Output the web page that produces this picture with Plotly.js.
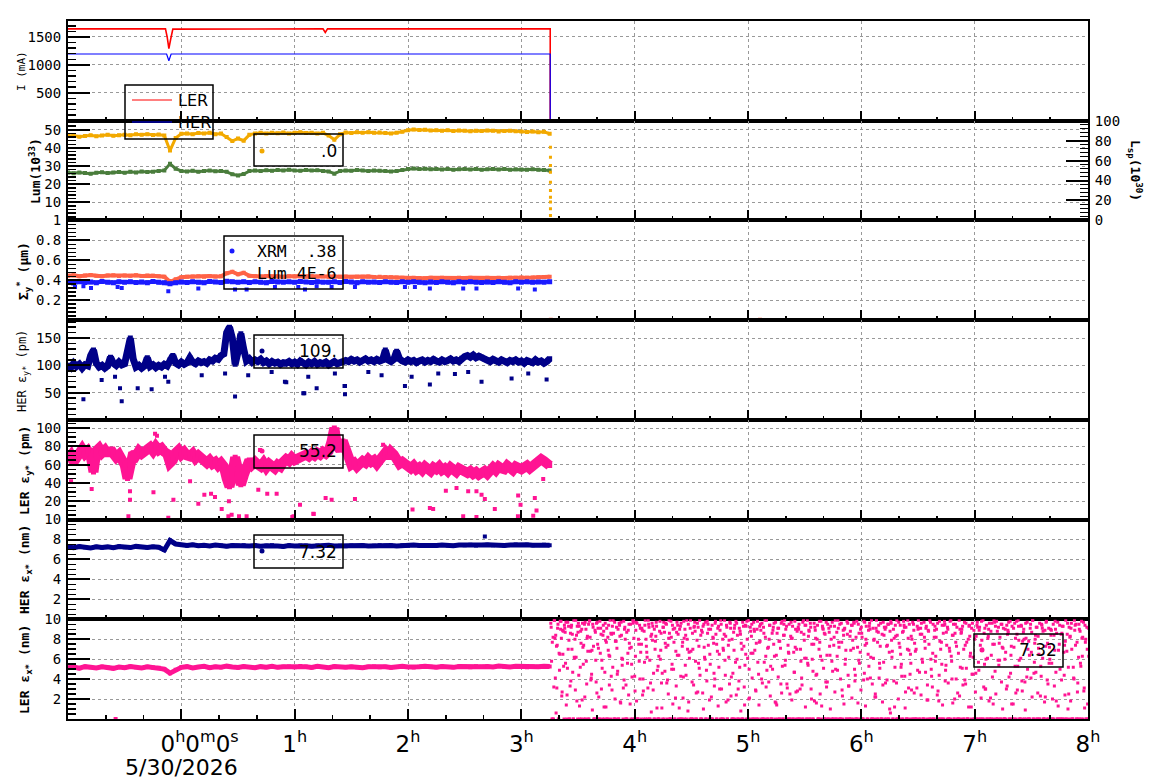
<!DOCTYPE html>
<html><head><meta charset="utf-8">
<script src="https://cdn.plot.ly/plotly-3.0.1.min.js"></script>
<style>html,body{margin:0;padding:0;background:#fff}#chart{width:1160px;height:782px}</style>
</head><body><div id="chart"></div>
<script>
// ================= DATA =================
const hourTicks = [0, 1, 2, 3, 4, 5, 6, 7, 8];
const hourLabels = ['\u00A0\u00A0\u00A0\u00A0\u00A00<sup>h</sup>0<sup>m</sup>0<sup>s</sup>', '1<sup>h</sup>', '2<sup>h</sup>', '3<sup>h</sup>', '4<sup>h</sup>', '5<sup>h</sup>', '6<sup>h</sup>', '7<sup>h</sup>', '8<sup>h</sup>'];
const dateLabel = '5/30/2026';

const yTitles = ['I (mA)', '<b>Lum(10<sup>33</sup>)</b>', '<b>\u03A3<sub>y</sub><sup>*</sup> (\u03BCm)</b>', 'HER \u03B5<sub>y*</sub> (pm)', '<b>LER \u03B5<sub>y*</sub> (pm)</b>', '<b>HER \u03B5<sub>x*</sub> (nm)</b>', '<b>LER \u03B5<sub>x*</sub> (nm)</b>'];
const rightTitle = '<b>L<sub>sp</sub>(10<sup>30</sup>)</b>';

// beam currents (mA)
const tLER   = [-1, -0.14, -0.125, -0.11, -0.095, -0.075, 1.25, 1.27, 1.29, 3.255, 3.255, 8];
const curLER = [1645, 1645, 1500, 1290, 1450, 1640, 1645, 1580, 1645, 1645, 0, 0];
const tHER   = [-1, -0.13, -0.11, -0.09, 3.255, 3.255, 8];
const curHER = [1195, 1195, 1075, 1195, 1195, 0, 0];

// regular sampling grids (hours)
const gridA = {start: -1, step: 0.05};   // 86 samples up to 3.25 h
const gridB = {start: -1, step: 0.025};  // 171 samples up to 3.25 h
const gridN1 = {start: 3.26, step: 0.01};   // samples after beam abort
const gridN2 = {start: 3.2633, step: 0.01};
const gridN3 = {start: 3.2667, step: 0.01};

// luminosity (10^33)
const lumOrange = [46.5, 46.8, 46.2, 46.6, 47.0, 46.4, 46.9, 47.2, 46.7, 47.0,
  47.3, 47.0, 47.5, 47.2, 47.6, 47.1, 47.4, 46.8, 38.5, 45.5,
  47.8, 48.0, 47.5, 48.2, 47.9, 48.3, 47.6, 47.9, 46.0, 43.8, 45.2, 44.0, 47.2,
  48.0, 48.3, 47.9, 48.4, 48.1, 48.5, 48.0, 48.3, 48.6, 48.2, 48.4, 48.0, 48.3,
  46.8, 44.5, 47.5,
  48.5, 48.2, 48.6, 48.3, 48.7, 48.4, 48.5, 48.2, 48.0, 48.3, 48.9, 49.8,
  50.2, 49.9, 50.0, 49.6, 49.8, 49.5, 49.7, 49.3, 49.6, 49.4, 49.2, 49.5, 49.3, 49.6, 49.4, 49.1, 49.3, 49.5, 49.2, 49.0, 48.8, 49.1, 48.7, 48.9,
  47.8];
const lumGreen = [26.5, 26.0, 26.4, 26.2, 25.8, 26.3, 26.6, 26.1, 26.4, 26.7, 26.3, 26.8, 26.5, 27.0, 26.7, 26.9, 27.2, 27.6,
  31.2, 28.5,
  27.3, 27.0, 27.4, 26.9, 27.2, 27.5, 27.1, 27.3, 26.8,
  25.5, 24.8, 25.6,
  27.2, 27.5, 27.3, 27.7, 27.4, 27.8, 27.5, 27.9, 27.6, 27.4, 27.8, 27.5, 27.7, 27.3,
  27.0, 25.8, 27.2,
  27.6, 27.4, 27.8, 27.5, 27.3, 27.6, 27.4, 27.2, 27.0, 27.3,
  27.8, 28.4,
  28.6, 28.3, 28.5, 28.2, 28.4, 28.1, 28.3, 28.0, 28.2, 28.4, 28.1, 28.3, 28.0, 28.2, 28.4, 28.1, 28.3, 28.0, 28.2, 28.1, 27.9, 28.2, 28.0, 27.8,
  27.5];
const lumDropT = [3.257, 3.257, 3.257, 3.257, 3.257, 3.257, 3.257, 3.257, 3.257, 3.257];
const lumDrop  = [40.3, 34.8, 30.3, 26.6, 21.1, 16.5, 12.8, 10.1, 6.4, 2.7];
const lspT = [3.26, 8];
const lsp  = [0, 0];

// Sigma_y* (um)
const sigmaLum = [0.445, 0.450, 0.440, 0.448, 0.452, 0.445, 0.440, 0.447, 0.450, 0.443, 0.448, 0.445, 0.450, 0.442, 0.447, 0.444, 0.440, 0.435,
  0.385, 0.410,
  0.430, 0.435, 0.438, 0.440, 0.436, 0.442, 0.438, 0.440,
  0.470, 0.485, 0.460, 0.475, 0.445,
  0.440, 0.437, 0.442, 0.438, 0.440, 0.436, 0.441, 0.438, 0.440, 0.435, 0.439, 0.437, 0.440, 0.436, 0.438, 0.435, 0.437, 0.433, 0.436, 0.434, 0.437, 0.433, 0.435, 0.432, 0.430, 0.428,
  0.425, 0.422, 0.425, 0.423, 0.421, 0.424, 0.422, 0.425, 0.423, 0.421, 0.424, 0.422, 0.425, 0.423, 0.421, 0.424, 0.422, 0.425, 0.423, 0.426, 0.424, 0.427, 0.425, 0.428, 0.430, 0.432,
  0.435];
const sigmaXRM = [0.380, 0.372, 0.385, 0.378, 0.383, 0.375, 0.388, 0.380, 0.376, 0.384, 0.379, 0.386, 0.377, 0.382, 0.375, 0.387, 0.380, 0.376,
  0.365, 0.375,
  0.383, 0.378, 0.386, 0.380, 0.375, 0.388, 0.382, 0.377, 0.390, 0.384,
  0.380, 0.386, 0.378, 0.385, 0.381, 0.376, 0.387, 0.383, 0.379, 0.385,
  0.380, 0.388, 0.382, 0.377, 0.386, 0.381, 0.379, 0.384, 0.378, 0.387,
  0.382, 0.376, 0.385, 0.380, 0.383, 0.378, 0.386, 0.381, 0.377, 0.384,
  0.379, 0.386, 0.380, 0.375, 0.383, 0.378, 0.385, 0.381, 0.376, 0.384,
  0.379, 0.386, 0.380, 0.377, 0.383, 0.378, 0.385, 0.380, 0.376, 0.384,
  0.381, 0.386, 0.379, 0.383, 0.380, 0.385];
const sigmaXRMOutT = [-0.938, -0.864, -0.797, -0.562, -0.526, -0.115, 0.150, 0.474, 0.576, 0.826, 1.032, 1.091, 1.194, 1.326, 1.532, 1.973, 2.061, 2.193, 2.487, 2.604, 2.972, 3.119];
const sigmaXRMOut  = [0.333, 0.340, 0.323, 0.333, 0.323, 0.290, 0.317, 0.307, 0.307, 0.333, 0.333, 0.307, 0.340, 0.333, 0.333, 0.333, 0.333, 0.317, 0.317, 0.317, 0.317, 0.307];
const sigmaLumZeroT = [3.26, 5.106];
const sigmaLumZero  = [0.004, 0.004];

// HER eps_y* (pm)
const herEy = [100, 96, 104, 98, 102, 95, 101, 99, 118, 128,
  104, 97, 100, 95, 99, 115, 104, 100, 106, 101, 103, 130, 150, 112,
  97, 100, 95, 99, 114, 98, 101, 96, 100, 97, 102, 99, 110, 118,
  104, 101, 106, 102, 105, 114, 106, 103, 108, 105, 107, 104,
  110, 108, 113, 111, 118, 121, 160, 170, 150, 102, 125, 158, 130,
  108, 112, 106, 110, 107, 111, 105, 108, 103, 107, 104, 106, 102, 105,
  104, 107, 103, 106, 102, 108, 104, 101, 106, 103, 107, 102, 105, 103, 106, 101, 104, 107, 103, 105,
  106, 109, 107, 111, 108, 110, 106, 109, 112, 108, 110, 107, 111, 108, 110,
  128, 110, 107, 111, 126, 112,
  108, 106, 110, 107, 109, 105, 108, 110, 106, 109, 107, 111, 108, 106, 110, 107, 109, 112, 108, 110, 107,
  113, 116, 118, 115, 119, 114, 117, 115, 112,
  110, 107, 111, 108, 106, 110, 108, 105, 109, 107, 110, 106, 108, 104, 109, 107, 105, 110, 106, 108, 104, 107, 112];
const herEyOutT = [-0.864, -0.526, -0.541, -0.385, -0.262, -0.703, -0.585, -0.144, -0.115, 0.180, 0.386, 0.474, 0.590, 0.797, 0.914, 0.926, 1.076, 1.085, 1.120, 1.194, 1.355, 1.440, 1.444, 1.444, 1.650, 1.767, 1.973, 2.032, 2.193, 2.267, 2.414, 2.531, 2.649, 2.914, 3.061, 3.223];
const herEyOut  = [38, 34, 58, 58, 56, 73, 79, 79, 70, 82, 85, 43, 82, 88, 70, 69, 49, 49, 79, 58, 85, 62, 47, 62, 88, 82, 62, 79, 65, 85, 84, 88, 70, 76, 85, 74];

// LER eps_y* (pm)
const lerEy = [66, 70, 63, 68, 74, 77, 72, 75, 70, 52,
  75, 78, 73, 76, 71, 77, 72, 68, 71, 66, 60, 45, 55,
  73, 70, 75, 72, 74, 77, 79, 75, 80, 76, 78, 74, 72, 62, 65,
  73, 76, 71, 74, 70, 69, 72, 67, 70, 66,
  64, 62, 65, 61, 63, 59, 62, 58, 45, 36, 50, 68, 55, 38, 48,
  62, 65, 60, 63, 60, 58, 62, 57, 61, 59, 56, 60, 58,
  63, 66, 64, 68, 65, 67, 69, 68, 71, 69, 72, 70, 73, 71, 74, 72, 75,
  85, 100, 80, 76, 86, 78,
  63, 60, 62, 58, 61, 64, 62, 66, 63, 65, 61, 64, 70, 73, 68, 74, 71, 64, 61, 63, 60,
  58, 56, 59, 55, 57, 54, 58, 56, 53, 57, 55, 58, 54, 56, 53, 57, 55, 52, 56, 54, 53,
  51, 53, 50, 52, 49, 51, 53, 50,
  55, 57, 54, 58, 56, 55, 59, 57, 54, 58, 56, 55, 57, 59, 56, 58, 60,
  63, 66, 64, 62, 59];
const lerEyOutT = [-0.973, -0.791, -0.467, -0.453, -0.453, -0.246, -0.232, -0.215, -0.115, -0.070, 0.077, 0.150, 0.203, 0.262, 0.297, 0.356, 0.420, 0.415, 0.444, 0.509, 0.576, 0.679, 0.694, 0.758, 0.841, 0.979, 0.990, 1.047, 1.165, 1.168, 1.273, 1.326, 1.532, 1.780, 2.040, 2.193, 2.222, 2.334, 2.428, 2.487, 2.531, 2.604, 2.604, 2.649, 2.678, 2.766, 2.972, 2.970, 2.993, 3.105, 3.119, 3.134, 3.193];
const lerEyOut  = [41.8, 33.4, 3.6, 21.8, 30.9, 29.8, 93.7, 91.5, 2.0, 21.8, 41.8, 17.4, 27.2, 28.3, 24.7, 11.6, 20.0, 3.6, 5.4, 3.6, 3.6, 32.7, 76.0, 28.3, 28.3, 2.7, 3.6, 16.3, 6.5, 6.2, 23.6, 21.8, 22.5, 81.8, 10.9, 12.7, 11.6, 31.6, 34.5, 3.6, 30.9, 30.9, 2.9, 27.2, 22.5, 11.6, 26.2, 3.6, 16.3, 4.3, 23.6, 9.8, 44.3];

// HER eps_x* (nm)
const herEx = [7.25, 7.18, 7.30, 7.22, 7.15, 7.28, 7.20, 7.26, 7.17, 7.29, 7.23, 7.19, 7.31, 7.24, 7.20, 7.27, 7.22, 6.95,
  7.90, 7.55,
  7.45, 7.40, 7.48, 7.38, 7.42, 7.36, 7.44, 7.39, 7.33, 7.41,
  7.37, 7.43, 7.35, 7.40, 7.32, 7.38, 7.42, 7.36, 7.31, 7.39,
  7.34, 7.41, 7.37, 7.33, 7.40, 7.36, 7.42, 7.35, 7.38, 7.32,
  7.39, 7.36, 7.41, 7.34, 7.38, 7.43, 7.37, 7.40, 7.35, 7.42,
  7.38, 7.44, 7.39, 7.36, 7.43, 7.40, 7.46, 7.41, 7.38, 7.45,
  7.42, 7.47, 7.40, 7.44, 7.48, 7.43, 7.46, 7.41, 7.45, 7.49,
  7.44, 7.47, 7.42, 7.46, 7.48, 7.43];
const herExOutT = [2.678];
const herExOut  = [8.3];

// LER eps_x* (nm)
const lerEx = [5.15, 5.22, 5.10, 5.25, 5.18, 5.12, 5.24, 5.16, 5.08, 5.21, 5.14, 5.26, 5.19, 5.11, 5.23, 5.17, 5.13,
  5.00, 4.60, 4.95,
  5.18, 5.25, 5.12, 5.22, 5.28, 5.15, 5.24, 5.19, 5.30, 5.21,
  5.16, 5.27, 5.22, 5.14, 5.25, 5.20, 5.29, 5.18, 5.23, 5.26,
  5.19, 5.31, 5.24, 5.17, 5.28, 5.22, 5.15, 5.26, 5.21, 5.18,
  5.25, 5.20, 5.14, 5.23, 5.27, 5.19, 5.24, 5.16, 5.22, 5.28,
  5.21, 5.17, 5.25, 5.30, 5.23, 5.19, 5.26, 5.22, 5.18, 5.27,
  5.24, 5.20, 5.29, 5.23, 5.26, 5.21, 5.31, 5.25, 5.22, 5.28,
  5.24, 5.19, 5.27, 5.23, 5.30, 5.26];
const lerExOutT = [-0.58];
const lerExOut  = [0];
// after the abort the LER eps_x* readout is noise between 0 and 10
const lerExNoise1 = [
  9.6, 0, 8.2, 9.9, 4.1, 7.3, 9.1, 0, 6.5, 9.8, 2.7, 8.8, 9.4, 5.6, 0, 9.7, 7.9, 3.3, 9.2, 8.5, 0, 6.1, 9.9, 1.8, 8.7,
  9.3, 5.2, 0, 9.6, 7.4, 2.2, 9.0, 8.1, 0, 9.8, 6.8, 4.5, 9.5, 0, 8.9, 3.7, 9.7, 7.1, 0, 9.1, 5.9, 8.4, 1.2, 9.6, 7.7,
  0, 9.4, 6.3, 8.6, 2.9, 9.9, 0, 7.8, 9.2, 4.8, 0, 8.3, 9.7, 5.4, 3.1, 9.0, 0, 8.7, 6.6, 9.5, 1.5, 7.2, 0, 9.8, 4.3,
  8.9, 9.6, 0, 5.8, 9.1, 7.5, 2.4, 0, 9.4, 8.0, 6.2, 9.9, 0, 3.6, 8.5, 9.3, 0, 7.0, 9.7, 4.9, 0, 8.8, 6.9, 1.1, 9.2,
  0, 7.6, 9.5, 3.9, 8.1, 0, 9.8, 5.5, 9.0, 0, 2.1, 8.7, 9.4, 6.4, 0, 9.6, 7.3, 4.2, 0, 8.4, 9.9, 0.8, 6.7, 9.1, 0,
  8.6, 3.4, 9.7, 0, 7.9, 9.2, 5.1, 0, 8.9, 2.6, 9.5, 6.0, 0, 9.8, 7.4, 1.9, 9.0, 0, 8.2, 4.6, 9.6, 0, 6.8, 9.3, 3.0,
  9.9, 0, 7.1, 8.5, 4.4, 9.4, 0, 6.2, 9.7, 2.3, 8.0, 0, 9.1, 5.7, 9.6, 0, 3.8, 8.8, 7.6, 0, 9.3, 1.4, 6.5, 9.8, 0,
  5.0, 9.2, 8.3, 0, 9.7, 6.9, 2.8, 9.0, 0, 7.7, 9.5, 4.0, 0, 8.6, 9.9, 3.2, 0, 7.2, 9.4, 5.3, 0, 8.9, 9.6, 1.7, 6.4,
  0, 9.1, 7.8, 3.5, 9.8, 0, 8.4, 5.9, 9.3, 0, 6.6, 2.5, 9.7, 8.1, 0, 4.7, 9.0, 7.0, 0, 9.5, 3.0, 8.7, 0, 9.9, 6.1,
  9.4, 0, 5.4, 8.8, 9.6, 2.0, 0, 7.5, 9.2, 4.4, 8.0, 0, 9.8, 6.3, 1.3, 9.1, 0, 8.5, 9.7, 3.7, 0, 7.3, 9.3, 5.8, 0,
  8.2, 9.9, 0, 4.9, 7.7, 9.5, 0, 2.9, 8.9, 9.0, 6.0, 0, 9.6, 3.3, 8.3, 0, 9.4, 7.1, 5.0, 0, 9.8, 1.6, 8.6, 6.7, 9.2,
  0, 3.9, 9.7, 8.0, 0, 6.5, 9.3, 4.1, 9.9, 0, 7.9, 2.2, 9.1, 0, 8.7, 5.6, 9.6, 0, 3.4, 8.4, 9.0, 0, 7.4, 9.5, 1.0,
  9.8, 6.2, 0, 8.1, 9.4, 3.6, 0, 9.7, 7.2, 5.2, 0, 8.8, 9.2, 2.7, 0, 9.9, 6.9, 4.5, 8.3, 0, 9.5, 7.6, 0, 3.1, 9.0,
  0, 8.5, 9.6, 5.7, 0, 7.8, 9.1, 1.9, 8.9, 0, 9.7, 4.3, 6.6, 0, 9.3, 8.2, 2.4, 0, 9.8, 7.0, 5.5, 0, 9.4, 3.8, 8.7,
  9.2, 0, 6.8, 9.9, 4.0, 8.4, 0, 9.5, 7.3, 2.6, 0, 9.0, 8.6, 5.1, 0, 9.7, 3.5, 7.7, 0, 9.3, 6.3, 1.2, 9.6, 0, 8.0,
  4.6, 9.4, 0, 8.9, 7.4, 9.8, 0, 3.2, 9.1, 6.0, 0, 8.3, 9.6, 2.1, 0, 7.5, 9.9, 4.8, 0, 8.8, 9.2, 5.9, 0, 9.5, 7.1,
  0, 9.0, 3.0, 8.5, 9.7, 0, 6.4, 9.3, 1.5, 0, 8.1, 9.8, 5.3, 7.9, 0, 9.4, 2.8, 8.7, 0, 9.6, 4.2, 7.0, 0, 9.1, 6.7,
  9.9, 0, 7.6, 4.7, 9.2, 8.3, 0, 2.3, 9.5, 6.1, 0, 8.9, 9.7, 3.9, 0, 7.2, 9.0, 5.6, 0, 8.4, 9.8, 1.8, 0, 6.9, 9.4,
  0, 8.6, 9.3, 4.4, 7.8, 0, 9.6, 2.5, 8.2, 9.1, 0, 5.2, 9.9, 7.4, 0, 3.6, 9.5, 8.8, 0, 6.3, 9.7, 1.1, 8.0, 9.2, 0];
const lerExNoise2 = [
  9.2, 7.7, 0, 9.9, 8.4, 3.1, 9.5, 6.6, 9.8, 8.1, 8.9, 5.3, 9.1, 9.7, 2.4, 7.0, 0, 8.6, 9.4, 4.7, 9.9, 8.0, 6.2, 9.3, 9.6,
  1.3, 8.8, 9.0, 7.2, 0, 9.7, 5.8, 8.3, 9.5, 9.9, 3.9, 6.9, 9.2, 0, 8.7, 9.6, 7.5, 2.2, 9.8, 8.5, 5.1, 9.4, 0, 7.9, 9.1,
  8.2, 6.4, 9.9, 4.3, 9.3, 8.6, 9.7, 0, 7.1, 9.0, 9.6, 1.7, 8.4, 6.0, 9.8, 9.2, 3.4, 0, 8.9, 7.6, 9.5, 5.5, 9.9, 8.1, 2.8,
  9.7, 0, 8.0, 9.4, 6.7, 9.1, 4.0, 8.8, 9.9, 7.3, 0, 9.5, 5.9, 8.3, 9.6, 2.9, 9.0, 7.8, 9.3, 0, 6.3, 9.8, 8.6, 4.6, 9.2,
  8.7, 9.6, 3.6, 7.4, 9.9, 0, 8.2, 9.4, 5.0, 9.1, 6.8, 9.7, 8.5, 1.1, 9.3, 0, 7.7, 9.8, 9.0, 4.4, 8.0, 9.5, 6.1, 9.9, 0,
  7.0, 9.2, 8.8, 2.6, 9.6, 5.6, 9.9, 8.4, 0, 9.3, 7.2, 9.7, 4.9, 8.6, 9.0, 6.5, 0, 9.4, 8.1, 3.3, 9.8, 7.5, 9.1, 5.2, 8.9,
  9.5, 0, 6.9, 9.9, 8.3, 9.2, 1.9, 7.9, 9.6, 4.2, 0, 8.7, 9.4, 9.8, 6.0, 3.0, 9.1, 8.5, 0, 9.7, 7.3, 5.4, 9.3, 8.0, 9.9,
  2.1, 8.8, 9.5, 6.6, 9.0, 0, 7.6, 9.8, 4.5, 9.3, 8.9, 9.6, 0, 5.7, 8.2, 9.9, 7.1, 3.7, 9.4, 0, 8.6, 9.2, 6.3, 9.7, 1.4,
  9.1, 7.8, 0, 9.6, 5.3, 8.4, 9.9, 9.0, 3.5, 7.4, 9.5, 0, 8.1, 9.3, 6.7, 9.8, 2.7, 8.8, 9.2, 0, 7.0, 4.1, 9.7, 8.5, 9.4,
  6.1, 9.9, 8.3, 0, 9.2, 7.5, 4.8, 9.6, 8.9, 1.6, 9.4, 0, 7.7, 9.8, 5.9, 9.0, 8.6, 0, 3.2, 9.5, 9.1, 6.4, 8.0, 9.7, 0,
  9.3, 5.0, 8.7, 9.9, 7.2, 0, 9.6, 2.3, 8.4, 9.1, 6.9, 9.8, 4.4, 0, 8.8, 9.4, 7.9, 9.7, 3.8, 8.2, 0, 9.5, 5.6, 9.0, 8.6,
  0, 9.8, 7.4, 9.3, 4.0, 8.9, 9.6, 6.2, 0, 9.1, 8.0, 2.5, 9.9, 7.7, 9.4, 5.1, 0, 8.5, 9.7, 9.2, 3.6, 7.3, 9.5, 0, 8.8,
  9.6, 6.8, 9.0, 1.2, 8.3, 9.9, 0, 7.6, 9.4, 5.5, 8.7, 9.8, 4.3, 9.2, 0, 8.1, 9.5, 6.5, 2.9, 9.7, 8.9, 0, 7.0, 9.3, 9.9,
  4.7, 9.1, 8.5, 0, 9.7, 7.1, 9.3, 3.4, 8.8, 9.9, 6.0, 0, 9.5, 8.2, 5.8, 9.0, 9.6, 1.8, 7.8, 0, 9.4, 8.6, 9.8, 4.9, 7.4,
  9.0, 0, 9.8, 6.3, 8.4, 9.5, 2.0, 7.7, 9.2, 0, 9.9, 5.2, 8.7, 9.3, 7.0, 3.9, 9.6, 0, 8.0, 9.4, 6.6, 9.1, 4.5, 8.9, 0,
  8.3, 9.7, 5.7, 9.2, 0, 7.9, 9.9, 8.6, 3.0, 9.4, 6.1, 9.0, 0, 8.8, 9.6, 1.5, 7.5, 9.3, 9.8, 0, 5.4, 8.2, 9.5, 7.2, 9.1,
  0, 6.7, 9.4, 8.9, 4.2, 9.8, 7.3, 0, 9.1, 9.6, 2.6, 8.5, 9.9, 5.9, 0, 9.3, 7.8, 9.0, 3.7, 8.1, 9.7, 0, 6.4, 9.5, 8.7,
  9.9, 4.6, 8.0, 9.2, 0, 7.1, 9.6, 5.3, 9.4, 8.8, 0, 2.2, 9.8, 7.6, 9.1, 6.0, 8.4, 0, 9.5, 3.3, 9.0, 8.6, 9.7, 0, 5.0,
  8.5, 9.3, 0, 7.4, 9.9, 6.8, 1.0, 9.2, 8.3, 9.6, 0, 4.1, 8.9, 9.5, 7.7, 0, 9.0, 5.6, 9.8, 8.2, 2.8, 9.4, 0, 7.0, 9.1];
const lerExNoise3 = [
  5.8, 0, 3.2, 8.1, 0.6, 7.4, 0, 4.9, 9.0, 2.3, 6.5, 0, 8.7, 1.4, 5.1, 9.3, 0, 3.8, 7.0, 0, 6.2, 2.9, 8.4, 0, 4.4,
  0, 7.6, 1.9, 5.5, 9.5, 0, 3.5, 6.8, 0, 8.2, 4.1, 0.9, 7.3, 0, 5.9, 2.6, 9.1, 0, 6.6, 3.0, 0, 8.8, 4.7, 1.2, 0,
  6.9, 3.4, 0, 8.5, 5.2, 0, 2.0, 7.8, 4.5, 0, 9.4, 1.6, 6.1, 0, 3.9, 8.0, 0, 5.6, 2.4, 7.1, 0, 4.2, 9.6, 0, 6.3,
  1.8, 0, 7.5, 4.0, 0, 8.9, 2.8, 5.7, 0, 6.7, 3.1, 9.2, 0, 0.7, 7.9, 4.6, 0, 8.3, 1.1, 5.3, 0, 6.0, 3.6, 0, 9.7,
  4.8, 7.2, 0, 2.5, 8.6, 0, 5.0, 1.5, 7.7, 0, 3.3, 6.4, 0, 9.0, 4.3, 0, 2.1, 8.1, 5.4, 0, 7.0, 1.7, 0, 6.8, 3.7,
  0, 9.3, 5.8, 0, 2.7, 7.3, 4.4, 0, 8.7, 1.0, 6.2, 0, 3.8, 9.5, 0, 5.5, 2.2, 0, 7.6, 4.0, 8.5, 0, 1.3, 6.5, 0,
  3.0, 8.0, 0, 5.9, 1.7, 0, 7.4, 3.5, 9.1, 0, 4.6, 6.9, 0, 2.4, 8.4, 0, 5.2, 0.8, 7.0, 0, 3.2, 9.4, 0, 6.1, 2.0,
  0, 6.6, 4.1, 0, 8.8, 2.9, 0, 5.7, 1.4, 7.8, 0, 3.6, 9.2, 0, 6.3, 4.9, 0, 8.0, 2.3, 0, 5.0, 7.5, 0, 1.6, 8.6,
  4.2, 0, 7.1, 2.6, 0, 9.5, 5.4, 0, 3.1, 6.7, 0, 8.3, 1.9, 0, 4.7, 7.2, 0, 2.8, 9.0, 0, 5.8, 3.4, 0, 7.9, 1.2,
  0, 5.6, 8.9, 0, 3.0, 6.0, 0, 1.8, 8.1, 4.5, 0, 7.0, 2.5, 0, 9.3, 5.1, 0, 3.7, 6.4, 0, 8.7, 1.0, 0, 4.8, 7.4,
  2.7, 0, 6.3, 9.1, 0, 4.0, 7.7, 0, 1.5, 5.5, 0, 8.5, 3.3, 0, 6.9, 2.1, 0, 9.6, 4.4, 0, 7.2, 5.9, 0, 2.9, 8.2,
  0, 4.6, 1.3, 7.6, 0, 5.3, 9.0, 0, 3.5, 6.1, 0, 2.2, 8.8, 0, 4.1, 7.3, 0, 1.7, 5.7, 0, 9.2, 3.9, 0, 6.7, 0.6,
  7.9, 0, 3.8, 5.2, 0, 8.4, 2.0, 0, 6.5, 4.3, 0, 9.4, 1.1, 0, 7.0, 3.1, 0, 5.6, 8.0, 0, 2.6, 6.8, 0, 4.9, 9.1,
  0, 2.4, 6.0, 0, 8.2, 4.7, 0, 1.9, 7.5, 0, 5.0, 3.2, 0, 8.9, 6.3, 0, 2.8, 4.4, 0, 7.7, 1.4, 0, 9.5, 5.4, 0,
  3.6, 7.1, 0, 5.8, 1.6, 0, 8.6, 4.0, 0, 6.6, 2.3, 0, 9.0, 3.4, 0, 7.4, 5.1, 0, 1.2, 8.3, 0, 4.5, 6.2, 0, 2.7,
  0, 9.2, 4.9, 0, 2.1, 7.0, 0, 5.5, 3.0, 0, 8.1, 1.8, 0, 6.4, 4.2, 0, 9.7, 2.5, 0, 5.9, 7.6, 0, 3.7, 1.0, 0,
  6.0, 0, 3.3, 8.7, 0, 4.6, 1.5, 0, 7.2, 5.3, 0, 2.9, 9.3, 0, 6.1, 3.8, 0, 8.0, 0.9, 0, 5.0, 7.8, 0, 4.1, 2.2,
  0, 5.7, 8.4, 0, 2.6, 6.5, 0, 4.3, 9.1, 0, 1.7, 7.3, 0, 3.5, 5.6, 0, 8.9, 2.0, 0, 6.9, 4.7, 0, 1.3, 7.5, 0,
  3.9, 0, 6.7, 2.4, 0, 8.5, 5.2, 0, 1.8, 7.0, 0, 4.0, 9.4, 0, 2.7, 6.2, 0, 5.3, 8.1, 0, 3.1, 7.7, 0, 1.5, 6.3];

// legend labels
const legendCurNames = ['LER', 'HER'];
const legendLumValue = '.0';
const legendSigmaNames = ['XRM\u00A0\u00A0.38', 'Lum\u00A04E-6'];
const legendHerEyValue = '109.';
const legendLerEyValue = '55.2';
const legendHerExValue = '7.32';
const legendLerExValue = '7.32';

// ================= BUILD =================
const C = {ler: '#ff0000', her: '#0000ff', orange: '#f2a900', green: '#4a7d3c', tomato: '#ff6347', xrm: '#1a1aff', navy: '#000088', pink: '#ff1493'};
const MONO = 'DejaVu Sans Mono', SANS = 'DejaVu Sans';
function grid(g, n) { const a = []; for (let i = 0; i < n; i++) a.push(+(g.start + i * g.step).toFixed(4)); return a; }
function ax(p) { return {xaxis: p === 1 ? 'x' : 'x' + p, yaxis: p === 1 ? 'y' : 'y' + p}; }
const traces = [];
function band(p, t, v, color, lw, ms) { traces.push(Object.assign({type: 'scatter', mode: 'lines+markers', x: t, y: v, line: {color: color, width: lw}, marker: {color: color, size: ms, symbol: 'square'}, hoverinfo: 'skip'}, ax(p))); }
function dots(p, t, v, color, ms) { traces.push(Object.assign({type: 'scatter', mode: 'markers', x: t, y: v, marker: {color: color, size: ms, symbol: 'square'}, hoverinfo: 'skip'}, ax(p))); }
function lines(p, t, v, color, lw) { traces.push(Object.assign({type: 'scatter', mode: 'lines', x: t, y: v, line: {color: color, width: lw}, hoverinfo: 'skip'}, ax(p))); }

lines(1, tLER, curLER, C.ler, 1.6);
lines(1, tHER, curHER, C.her, 1.2);
band(2, grid(gridA, lumOrange.length), lumOrange, C.orange, 3, 4);
band(2, grid(gridA, lumGreen.length), lumGreen, C.green, 3, 4);
dots(2, lumDropT, lumDrop, C.orange, 3);
traces.push({type: 'scatter', mode: 'lines', x: lspT, y: lsp, line: {color: C.orange, width: 3}, xaxis: 'x2', yaxis: 'y8', hoverinfo: 'skip'});
band(3, grid(gridA, sigmaLum.length), sigmaLum, C.tomato, 4, 4);
band(3, grid(gridA, sigmaXRM.length), sigmaXRM, C.xrm, 4, 5);
dots(3, sigmaXRMOutT, sigmaXRMOut, C.xrm, 4);
dots(3, sigmaLumZeroT, sigmaLumZero, C.tomato, 4);
band(4, grid(gridB, herEy.length), herEy, C.navy, 7, 5);
dots(4, herEyOutT, herEyOut, C.navy, 4);
band(5, grid(gridB, lerEy.length), lerEy, C.pink, 10, 5);
dots(5, lerEyOutT, lerEyOut, C.pink, 4);
band(6, grid(gridA, herEx.length), herEx, C.navy, 5, 4);
dots(6, herExOutT, herExOut, C.navy, 4);
band(7, grid(gridA, lerEx.length), lerEx, C.pink, 5, 4);
dots(7, lerExOutT, lerExOut, C.pink, 4);
dots(7, grid(gridN1, lerExNoise1.length), lerExNoise1, C.pink, 3);
dots(7, grid(gridN2, lerExNoise2.length), lerExNoise2, C.pink, 3);
dots(7, grid(gridN3, lerExNoise3.length), lerExNoise3, C.pink, 3);

// ---- layout ----
const W = 1160, H = 782, L = 68, R = 72, T = 21, B = 63;
const PW = W - L - R, PH = H - T - B;
const px2x = px => (px - L) / PW;
const py2y = py => (H - B - py) / PH;
const NP = 7;
const yCfg = [
  {range: [0, 1786], tickvals: [500, 1000, 1500], minor: 100},
  {range: [0, 55], tickvals: [10, 20, 30, 40, 50], minor: 2},
  {range: [0, 1], tickvals: [0.2, 0.4, 0.6, 0.8, 1], ticktext: ['0.2', '0.4', '0.6', '0.8', '1'], minor: 0.04},
  {range: [0, 183], tickvals: [50, 100, 150], minor: 10},
  {range: [0, 109], tickvals: [20, 40, 60, 80, 100], minor: 5},
  {range: [0, 10], tickvals: [2, 4, 6, 8, 10], minor: 0.5},
  {range: [0, 10], tickvals: [2, 4, 6, 8, 10], minor: 0.5}
];
const layout = {width: W, height: H, margin: {l: L, r: R, t: T, b: B}, showlegend: false,
  paper_bgcolor: '#fff', plot_bgcolor: '#fff', shapes: [], annotations: [], hovermode: false};

for (let i = 0; i < NP; i++) {
  const k = i + 1;
  const xs = k === 1 ? 'xaxis' : 'xaxis' + k, ys = k === 1 ? 'yaxis' : 'yaxis' + k;
  const xid = k === 1 ? 'x' : 'x' + k, yid = k === 1 ? 'y' : 'y' + k;
  const xa = {domain: [0, 1], anchor: yid, range: [-1, 8], tickmode: 'linear', tick0: -1, dtick: 1,
    showticklabels: false,
    ticks: 'inside', ticklen: 10, tickwidth: 2, tickcolor: '#000',
    showline: true, linewidth: 2, linecolor: '#000', mirror: true,
    showgrid: true, gridcolor: '#999', griddash: 'dot', gridwidth: 1, zeroline: false,
    minor: {tickmode: 'linear', tick0: -1, dtick: 1 / 3, ticks: 'inside', ticklen: 4, tickwidth: 1.5, tickcolor: '#000', showgrid: false},
    fixedrange: true};
  if (k === NP) {
    Object.assign(xa, {tickmode: 'array', tickvals: hourTicks, ticktext: hourLabels, showticklabels: true,
      tickfont: {family: SANS, size: 23, color: '#000'}, ticklabelstandoff: 3});
  }
  layout[xs] = xa;
  const c = yCfg[i];
  layout[ys] = {domain: [1 - (i + 1) / NP, 1 - i / NP], anchor: xid, range: c.range, tickmode: 'array', tickvals: c.tickvals,
    ticktext: c.ticktext || c.tickvals.map(String),
    ticks: 'inside', ticklen: 22, tickwidth: 2, tickcolor: '#000',
    showline: true, linewidth: 2, linecolor: '#000', mirror: true,
    showgrid: true, gridcolor: '#999', griddash: 'dot', gridwidth: 1, zeroline: false,
    minor: {tickmode: 'linear', tick0: 0, dtick: c.minor, ticks: 'inside', ticklen: 8, tickwidth: 1.5, tickcolor: '#000', showgrid: false},
    tickfont: {family: MONO, size: 14, color: '#000'}, ticklabelstandoff: 2, fixedrange: true};
}
layout.yaxis8 = {overlaying: 'y2', anchor: 'x2', side: 'right', range: [0, 100], tickmode: 'array', tickvals: [0, 20, 40, 60, 80, 100],
  ticks: 'inside', ticklen: 22, tickwidth: 2, tickcolor: '#000', showline: true, linewidth: 2, linecolor: '#000',
  showgrid: false, zeroline: false,
  minor: {tickmode: 'linear', tick0: 0, dtick: 4, ticks: 'inside', ticklen: 8, tickwidth: 1.5, tickcolor: '#000', showgrid: false},
  tickfont: {family: MONO, size: 14, color: '#000'}, ticklabelstandoff: 2, fixedrange: true};

// y titles
const titlePos = [[22, 71, 11], [35, 171, 13], [24, 271, 13], [23, 371, 12], [25, 471, 13], [25, 570, 13], [25, 670, 13]];
yTitles.forEach((t, i) => {
  layout.annotations.push({text: t, xref: 'paper', yref: 'paper', x: px2x(titlePos[i][0]), y: py2y(titlePos[i][1]),
    xanchor: 'center', yanchor: 'middle', textangle: -90, showarrow: false, font: {family: MONO, size: titlePos[i][2], color: '#000'}});
});
layout.annotations.push({text: rightTitle, xref: 'paper', yref: 'paper', x: px2x(1135), y: py2y(170), xanchor: 'center', yanchor: 'middle',
  textangle: 90, showarrow: false, font: {family: MONO, size: 13, color: '#000'}});
// date under 0h
layout.annotations.push({text: dateLabel, xref: 'x7', yref: 'paper', x: 0, y: py2y(781), xanchor: 'center', yanchor: 'bottom',
  showarrow: false, borderpad: 0, font: {family: SANS, size: 22, color: '#000'}});

// legend boxes
function box(x0, x1, y0, y1) { layout.shapes.push({type: 'rect', xref: 'paper', yref: 'paper', x0: px2x(x0), x1: px2x(x1), y0: py2y(y1), y1: py2y(y0), line: {color: '#000', width: 1.5}, fillcolor: 'rgba(0,0,0,0)', layer: 'above'}); }
function dot(px, py, color) { layout.shapes.push({type: 'circle', xref: 'paper', yref: 'paper', xsizemode: 'pixel', ysizemode: 'pixel', xanchor: px2x(px), yanchor: py2y(py), x0: -2.5, x1: 2.5, y0: -2.5, y1: 2.5, fillcolor: color, line: {width: 0}, layer: 'above'}); }
function seg(x0, x1, py, color) { layout.shapes.push({type: 'line', xref: 'paper', yref: 'paper', x0: px2x(x0), x1: px2x(x1), y0: py2y(py), y1: py2y(py), line: {color: color, width: 1}, layer: 'above'}); }
function txt(t, px, py, anchor, fam, size) { layout.annotations.push({text: t, xref: 'paper', yref: 'paper', x: px2x(px), y: py2y(py), xanchor: anchor, yanchor: 'middle', showarrow: false, font: {family: fam, size: size, color: '#000'}}); }

box(125, 213, 85, 139); seg(132, 172, 100, C.ler); seg(132, 172, 122, C.her);
txt(legendCurNames[0], 176, 100, 'left', SANS, 16); txt(legendCurNames[1], 176, 122, 'left', SANS, 16);
box(254, 343, 134, 166); dot(262, 151, C.orange); txt(legendLumValue, 339, 151, 'right', SANS, 17);
box(224, 343, 236, 289); dot(232, 251, C.xrm);
txt(legendSigmaNames[0], 255, 251, 'left', MONO, 16.5); txt(legendSigmaNames[1], 255, 273, 'left', MONO, 16.5);
box(254, 343, 335, 368); dot(262, 351, C.navy); txt(legendHerEyValue, 339, 351, 'right', SANS, 17);
box(254, 343, 435, 468); dot(262, 451, C.pink); txt(legendLerEyValue, 339, 451, 'right', SANS, 17);
box(254, 343, 535, 568); dot(262, 551, C.navy); txt(legendHerExValue, 339, 552, 'right', SANS, 17);
box(974, 1063, 634, 667); dot(982, 650, C.pink); txt(legendLerExValue, 1059, 650, 'right', SANS, 17);

Plotly.newPlot('chart', traces, layout, {displayModeBar: false, staticPlot: true});
</script>
</body></html>
